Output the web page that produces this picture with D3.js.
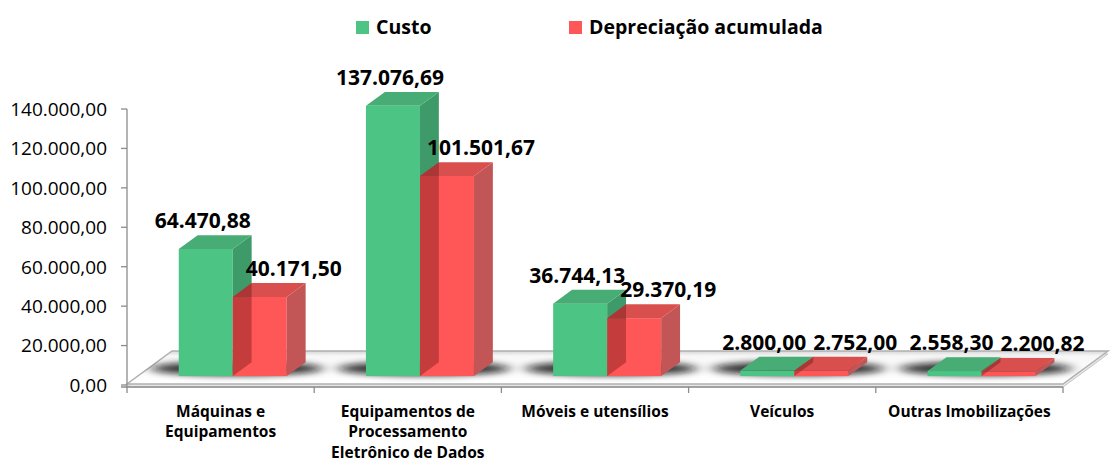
<!DOCTYPE html>
<html><head><meta charset="utf-8">
<script src="https://cdn.jsdelivr.net/npm/d3@7/dist/d3.min.js"></script>
<style>
body{margin:0;background:#fff}
text{font-family:"Open Sans",sans-serif;fill:#000}
</style></head>
<body><svg id="c" width="1115" height="462"></svg>
<script>
// ---- data ----
const categories = ["Máquinas e\nEquipamentos", "Equipamentos de\nProcessamento\nEletrônico de Dados", "Móveis e utensílios", "Veículos", "Outras Imobilizações"];
const seriesNames = ["Custo", "Depreciação acumulada"];
const custo = [64470.88, 137076.69, 36744.13, 2800.00, 2558.30];
const depreciacao = [40171.50, 101501.67, 29370.19, 2752.00, 2200.82];
const yTicks = [0, 20000, 40000, 60000, 80000, 100000, 120000, 140000];

// ---- styles ----
const pal = {
  green: {front: "#4cc584", side: "#3f9a69", top: "#47ad74"},
  red:   {front: "#ff5757", side: "#c25656", top: "#d94f4d"}
};
const series = [
  {name: seriesNames[0], values: custo, c: pal.green},
  {name: seriesNames[1], values: depreciacao, c: pal.red}
];

const loc = d3.formatLocale({decimal: ",", thousands: ".", grouping: [3], currency: ["R$", ""]});
const fmt = loc.format(",.2f");

const svg = d3.select("#c");
const defs = svg.append("defs");

// geometry
const left = 127, right = 1063, base = 385, topY = 109;
const D = {x: 45, y: -33};      // floor depth vector
const fT = 0.27, bT = 0.42;     // bar front depth and bar thickness (fractions)
const y = d3.scaleLinear().domain([0, 140000]).range([base, topY]);
const x = d3.scaleBand().domain(categories).range([left, right]);
const barW = 54;
const fx = D.x * fT, fy = D.y * fT;  // front face shift
const dx = D.x * bT, dy = D.y * bT;  // bar depth

// gradients / filters
const fg = defs.append("linearGradient").attr("id", "floorG").attr("x1", 0).attr("y1", 0).attr("x2", 0).attr("y2", 1);
fg.append("stop").attr("offset", "0").attr("stop-color", "#d6d6d6");
fg.append("stop").attr("offset", "0.15").attr("stop-color", "#f7f7f7");
fg.append("stop").attr("offset", "1").attr("stop-color", "#ffffff");
const blur = defs.append("filter").attr("id", "blur").attr("x", "-50%").attr("y", "-200%").attr("width", "200%").attr("height", "500%");
blur.append("feGaussianBlur").attr("stdDeviation", "7 3");

const floorPts = [[left, base - 1], [right, base - 1], [right + D.x, base - 1 + D.y], [left + D.x, base - 1 + D.y]];
defs.append("clipPath").attr("id", "floorClip").append("polygon").attr("points", floorPts.join(" "));

// floor slab
svg.append("polygon").attr("points", floorPts.map(p => [p[0], p[1] + 3]).join(" "))
  .attr("fill", "#e8e8e8").attr("stroke", "#c4c4c4").attr("stroke-width", 1);
svg.append("polygon").attr("points", floorPts.join(" "))
  .attr("fill", "url(#floorG)").attr("stroke", "#b0b0b0").attr("stroke-width", 1.5);

// shadows
const shadowG = svg.append("g").attr("clip-path", "url(#floorClip)");
categories.forEach((c, i) => {
  const cx = x(c) + x.bandwidth() / 2 + fx;
  shadowG.append("ellipse").attr("cx", cx + 4).attr("cy", base + D.y * 0.5)
    .attr("rx", 86).attr("ry", 7).attr("fill", "#111").attr("opacity", 0.85)
    .attr("filter", "url(#blur)");
});

// axes
const axisCol = "#8c8c8c";
svg.append("line").attr("x1", left).attr("x2", left).attr("y1", topY).attr("y2", base + 2)
  .attr("stroke", axisCol).attr("stroke-width", 1.3);
svg.append("line").attr("x1", left - 6).attr("x2", right).attr("y1", base + 2).attr("y2", base + 2)
  .attr("stroke", axisCol).attr("stroke-width", 1.3);
svg.selectAll(".yt").data(yTicks).join("line").attr("class", "yt")
  .attr("x1", left - 6).attr("x2", left).attr("y1", d => y(d)).attr("y2", d => y(d))
  .attr("stroke", axisCol).attr("stroke-width", 1.3);
svg.selectAll(".yl").data(yTicks).join("text").attr("class", "yl")
  .attr("x", 107).attr("y", d => y(d) + 6.8).attr("text-anchor", "end")
  .style("font-size", "19px").text(d => fmt(d));
const xTickPos = categories.map(c => x(c)).concat([right]);
svg.selectAll(".xt").data(xTickPos).join("line").attr("class", "xt")
  .attr("x1", d => d).attr("x2", d => d).attr("y1", base + 2).attr("y2", base + 8)
  .attr("stroke", axisCol).attr("stroke-width", 1.3);

// category labels
categories.forEach(c => {
  const t = svg.append("text").attr("text-anchor", "middle")
    .style("font-size", "15.5px").style("font-weight", "bold");
  c.split("\n").forEach((ln, k) => {
    t.append("tspan").attr("x", x(c) + x.bandwidth() / 2).attr("y", 416.5 + k * 20.5).text(ln);
  });
});

// bars
const bars = svg.append("g");
categories.forEach((c, i) => {
  const cx = x(c) + x.bandwidth() / 2 + fx;
  const g = bars.append("g");
  const geo = series.map((s, k) => {
    const x0 = cx - barW + k * barW, x1 = x0 + barW;
    const yt = y(s.values[i]) + fy, yb = base + fy;
    return {x0, x1, yt, yb};
  });
  series.forEach((s, k) => {
    const {x0, x1, yt, yb} = geo[k];
    g.append("rect").attr("x", x0).attr("y", yt).attr("width", barW).attr("height", yb - yt)
      .attr("fill", s.c.front);
    g.append("polygon").attr("points", [[x1, yt], [x1 + dx, yt + dy], [x1 + dx, yb + dy], [x1, yb]].join(" "))
      .attr("fill", s.c.side);
    g.append("polygon").attr("points", [[x0, yt], [x1, yt], [x1 + dx, yt + dy], [x0 + dx, yt + dy]].join(" "))
      .attr("fill", s.c.top);
  });
  // translucency: green side seen through red front/top
  const r = geo[1], gg = geo[0];
  const cid = "rc" + i;
  defs.append("clipPath").attr("id", cid).append("polygon")
    .attr("points", [[r.x0, r.yb], [r.x0, r.yt], [r.x0 + dx, r.yt + dy], [r.x1 + dx, r.yt + dy], [r.x1, r.yt], [r.x1, r.yb]].join(" "));
  g.append("polygon").attr("clip-path", `url(#${cid})`)
    .attr("points", [[gg.x1, gg.yt], [gg.x1 + dx, gg.yt + dy], [gg.x1 + dx, gg.yb + dy], [gg.x1, gg.yb]].join(" "))
    .attr("fill", "#400000").attr("opacity", 0.3);
});

// value labels
const labelShift = [-3, 34];
const labels = svg.append("g");
categories.forEach((c, i) => {
  const cx = x(c) + x.bandwidth() / 2 + fx;
  series.forEach((s, k) => {
    const fc = cx - barW / 2 + k * barW;
    const backTop = y(s.values[i]) + fy + dy;
    labels.append("text").attr("x", fc + labelShift[k]).attr("y", backTop - 7)
      .attr("text-anchor", "middle").style("font-size", "21px").style("font-weight", "bold")
      .text(fmt(s.values[i]));
  });
});

// legend
const legX = [356, 569];
series.forEach((s, k) => {
  svg.append("rect").attr("x", legX[k]).attr("y", 21).attr("width", 13).attr("height", 13).attr("fill", s.c.front);
  svg.append("text").attr("x", legX[k] + 20).attr("y", 34)
    .style("font-size", "19.5px").style("font-weight", "bold").text(s.name);
});
</script>
</body></html>
